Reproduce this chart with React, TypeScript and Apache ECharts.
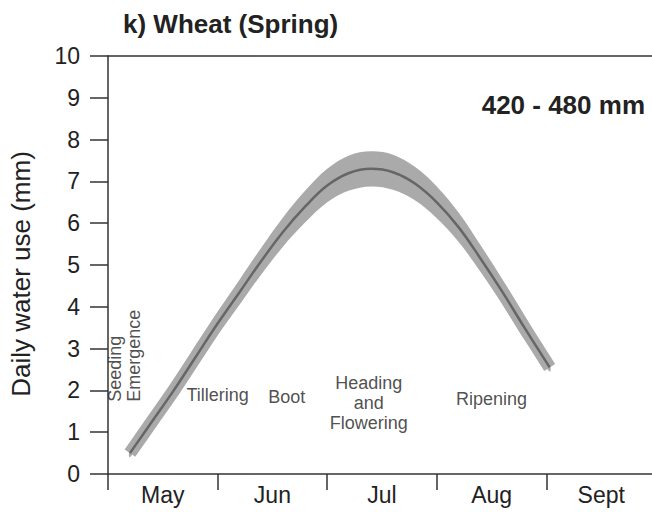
import React, { useEffect, useRef } from "react";
import * as echarts from "echarts";

// Months (x = months after 1 May)
const months = ["May", "Jun", "Jul", "Aug", "Sept"];

// Centre curve of daily water use (mm/day)
const xMonths = [0.2, 0.4, 0.6, 0.8, 1.0, 1.2, 1.4, 1.6, 1.8, 2.0, 2.2, 2.4, 2.6, 2.8, 3.0, 3.2, 3.4, 3.6, 3.8, 4.03];
const waterUse = [0.5, 1.25, 2.0, 2.8, 3.6, 4.35, 5.1, 5.8, 6.4, 6.9, 7.2, 7.3, 7.22, 6.95, 6.5, 5.9, 5.15, 4.35, 3.5, 2.55];
// Half-width of the grey range band (mm/day)
const bandHalf = [0.1, 0.2, 0.25, 0.27, 0.28, 0.3, 0.32, 0.35, 0.38, 0.4, 0.42, 0.42, 0.42, 0.4, 0.38, 0.35, 0.32, 0.3, 0.28, 0.1];

// Growth stage annotations
const stageNames = ["Tillering", "Boot", "Heading\nand\nFlowering", "Ripening"];
const stageX = [1.0, 1.63, 2.38, 3.5];
const stageY = [1.88, 1.85, 1.7, 1.79];
const verticalStageNames = ["Seeding", "Emergence"];
const verticalStageX = [0.064, 0.233];
const verticalStageY = [1.73, 1.73];

const yTicks = [0, 1, 2, 3, 4, 5, 6, 7, 8, 9, 10];

const FONT = "'Liberation Sans', Arial, Helvetica, sans-serif";
const AXIS = "#333333";
const TEXT = "#222222";

export default function App() {
  const ref = useRef<HTMLDivElement>(null);
  useEffect(() => {
    if (!ref.current) return;
    const chart = echarts.init(ref.current, null, { renderer: "svg" });
    const centre = xMonths.map((x, i) => [x, waterUse[i]]);
    const monthLabel = (v: number) => {
      const i = Math.round(v - 0.5);
      if (Math.abs(v - (i + 0.5)) < 1e-6 && months[i]) return months[i];
      return "";
    };
    chart.setOption({
      animation: false,
      textStyle: { fontFamily: FONT },
      grid: { left: 108, right: -4, top: 56, bottom: 38, outerBoundsMode: "none" },
      xAxis: [
        {
          type: "value", min: 0, max: 5, interval: 1, position: "bottom",
          axisLine: { show: true, lineStyle: { color: AXIS, width: 1.5 } },
          axisTick: { show: true, length: 16, lineStyle: { color: AXIS, width: 1.5 } },
          axisLabel: { show: false },
          splitLine: { show: false },
        },
        {
          type: "value", min: 0, max: 5, interval: 1, position: "top",
          axisLine: { show: true, lineStyle: { color: AXIS, width: 1.5 } },
          axisTick: { show: false }, axisLabel: { show: false }, splitLine: { show: false },
        },
        {
          type: "value", min: 0, max: 5, interval: 0.5, position: "bottom",
          axisLine: { show: false }, axisTick: { show: false }, splitLine: { show: false },
          axisLabel: {
            show: true, margin: 9, fontSize: 23, color: TEXT, fontFamily: FONT,
            formatter: monthLabel, showMinLabel: false, showMaxLabel: false,
          },
        },
      ],
      yAxis: {
        type: "value", min: yTicks[0], max: yTicks[yTicks.length - 1], interval: 1,
        name: "Daily water use (mm)", nameLocation: "middle", nameGap: 74, nameRotate: 90,
        nameTextStyle: { fontSize: 26, color: TEXT, fontFamily: FONT, padding: [0, 18, 0, 0] },
        axisLine: { show: true, lineStyle: { color: AXIS, width: 1.5 } },
        axisTick: { show: true, length: 18, lineStyle: { color: AXIS, width: 1.5 } },
        axisLabel: { margin: 28, fontSize: 23, color: TEXT, fontFamily: FONT },
        splitLine: { show: false },
      },
      graphic: [
        {
          type: "text", x: 123, y: 24,
          style: { text: "k) Wheat (Spring)", font: `bold 26px ${FONT}`, fill: TEXT, align: "left", verticalAlign: "middle" },
        },
        {
          type: "text", x: 645, y: 105,
          style: { text: "420 - 480 mm", font: `bold 26px ${FONT}`, fill: TEXT, align: "right", verticalAlign: "middle" },
        },
      ],
      series: [
        {
          type: "custom", silent: true, clip: false,
          data: [[xMonths[0], waterUse[0]]],
          renderItem: (_params: any, api: any) => {
            const upper = xMonths.map((x, i) => api.coord([x, waterUse[i] + bandHalf[i]]));
            const lower = xMonths.map((x, i) => api.coord([x, waterUse[i] - bandHalf[i]])).reverse();
            return {
              type: "polygon",
              shape: { points: upper.concat(lower), smooth: 0.35 },
              style: { fill: "#aaaaaa", stroke: "none" },
            };
          },
        },
        {
          type: "line", data: centre, smooth: 0.4, symbol: "none",
          lineStyle: { color: "#aaaaaa", width: 13, cap: "butt" }, silent: true,
        },
        {
          type: "line", data: centre, smooth: 0.4, symbol: "none",
          lineStyle: { color: "#666666", width: 2.5 }, silent: true,
        },
        {
          type: "scatter", symbolSize: 0, silent: true,
          data: stageNames.map((n, i) => ({ name: n, value: [stageX[i], stageY[i]] })),
          label: {
            show: true, formatter: "{b}", position: "inside", align: "center", verticalAlign: "middle",
            fontSize: 18, lineHeight: 20, color: TEXT, fontFamily: FONT,
          },
        },
        {
          type: "scatter", symbolSize: 0, silent: true,
          data: verticalStageNames.map((n, i) => ({ name: n, value: [verticalStageX[i], verticalStageY[i]] })),
          label: {
            show: true, formatter: "{b}", position: "inside", rotate: 90, align: "left", verticalAlign: "middle",
            fontSize: 18, color: TEXT, fontFamily: FONT,
          },
        },
      ],
    });
    return () => chart.dispose();
  }, []);
  return <div ref={ref} style={{ position: "absolute", left: 0, top: 0, width: 652, height: 512 }} />;
}
